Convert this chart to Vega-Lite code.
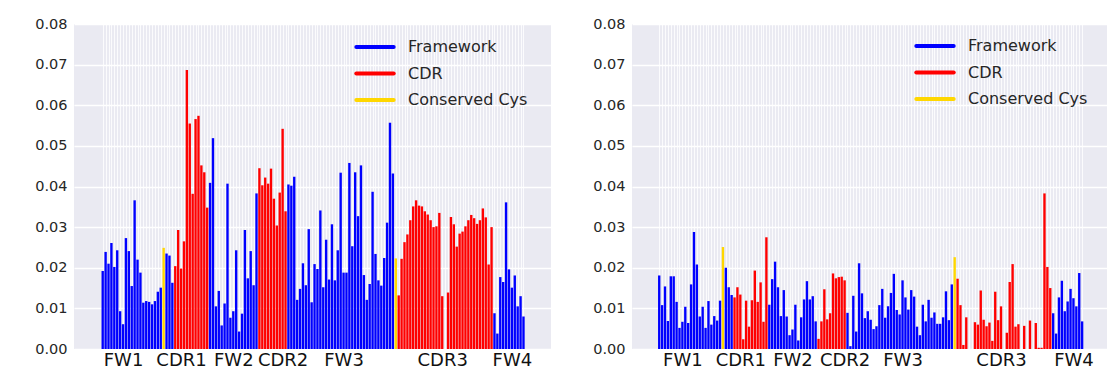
{
"$schema": "https://vega.github.io/schema/vega-lite/v6.json",
"background": "white",
"padding": {"left": 34, "top": 16, "right": 0, "bottom": 0},
"spacing": 41,
"datasets": {
"L": [
{"p":1,"v":0.0192,"r":"Framework"},{"p":2,"v":0.0239,"r":"Framework"},{"p":3,"v":0.0210,"r":"Framework"},{"p":4,"v":0.0261,"r":"Framework"},{"p":5,"v":0.0202,"r":"Framework"},{"p":6,"v":0.0243,"r":"Framework"},{"p":7,"v":0.0093,"r":"Framework"},{"p":8,"v":0.0061,"r":"Framework"},{"p":9,"v":0.0273,"r":"Framework"},{"p":10,"v":0.0241,"r":"Framework"},
{"p":11,"v":0.0155,"r":"Framework"},{"p":12,"v":0.0366,"r":"Framework"},{"p":13,"v":0.0220,"r":"Framework"},{"p":14,"v":0.0188,"r":"Framework"},{"p":15,"v":0.0114,"r":"Framework"},{"p":16,"v":0.0118,"r":"Framework"},{"p":17,"v":0.0116,"r":"Framework"},{"p":18,"v":0.0110,"r":"Framework"},{"p":19,"v":0.0118,"r":"Framework"},{"p":20,"v":0.0141,"r":"Framework"},
{"p":21,"v":0.0151,"r":"Framework"},{"p":22,"v":0.0249,"r":"Conserved Cys"},{"p":23,"v":0.0235,"r":"Framework"},{"p":24,"v":0.0230,"r":"Framework"},{"p":25,"v":0.0163,"r":"Framework"},{"p":26,"v":0.0204,"r":"CDR"},{"p":27,"v":0.0293,"r":"CDR"},{"p":28,"v":0.0198,"r":"CDR"},{"p":29,"v":0.0265,"r":"CDR"},{"p":30,"v":0.0687,"r":"CDR"},
{"p":31,"v":0.0555,"r":"CDR"},{"p":32,"v":0.0382,"r":"CDR"},{"p":33,"v":0.0566,"r":"CDR"},{"p":34,"v":0.0574,"r":"CDR"},{"p":35,"v":0.0452,"r":"CDR"},{"p":36,"v":0.0435,"r":"CDR"},{"p":37,"v":0.0348,"r":"CDR"},{"p":38,"v":0.0409,"r":"Framework"},{"p":39,"v":0.0519,"r":"Framework"},{"p":40,"v":0.0105,"r":"Framework"},
{"p":41,"v":0.0143,"r":"Framework"},{"p":42,"v":0.0058,"r":"Framework"},{"p":43,"v":0.0112,"r":"Framework"},{"p":44,"v":0.0407,"r":"Framework"},{"p":45,"v":0.0077,"r":"Framework"},{"p":46,"v":0.0093,"r":"Framework"},{"p":47,"v":0.0243,"r":"Framework"},{"p":48,"v":0.0043,"r":"Framework"},{"p":49,"v":0.0087,"r":"Framework"},{"p":50,"v":0.0293,"r":"Framework"},
{"p":51,"v":0.0174,"r":"Framework"},{"p":52,"v":0.0241,"r":"Framework"},{"p":53,"v":0.0157,"r":"Framework"},{"p":54,"v":0.0383,"r":"Framework"},{"p":55,"v":0.0445,"r":"CDR"},{"p":56,"v":0.0403,"r":"CDR"},{"p":57,"v":0.0422,"r":"CDR"},{"p":58,"v":0.0407,"r":"CDR"},{"p":59,"v":0.0444,"r":"CDR"},{"p":60,"v":0.0370,"r":"CDR"},
{"p":61,"v":0.0304,"r":"CDR"},{"p":62,"v":0.0385,"r":"CDR"},{"p":63,"v":0.0542,"r":"CDR"},{"p":64,"v":0.0339,"r":"CDR"},{"p":65,"v":0.0405,"r":"Framework"},{"p":66,"v":0.0402,"r":"Framework"},{"p":67,"v":0.0424,"r":"Framework"},{"p":68,"v":0.0121,"r":"Framework"},{"p":69,"v":0.0148,"r":"Framework"},{"p":70,"v":0.0211,"r":"Framework"},
{"p":71,"v":0.0157,"r":"Framework"},{"p":72,"v":0.0295,"r":"Framework"},{"p":73,"v":0.0115,"r":"Framework"},{"p":74,"v":0.0209,"r":"Framework"},{"p":75,"v":0.0197,"r":"Framework"},{"p":76,"v":0.0341,"r":"Framework"},{"p":77,"v":0.0152,"r":"Framework"},{"p":78,"v":0.0269,"r":"Framework"},{"p":79,"v":0.0171,"r":"Framework"},{"p":80,"v":0.0307,"r":"Framework"},
{"p":81,"v":0.0169,"r":"Framework"},{"p":82,"v":0.0243,"r":"Framework"},{"p":83,"v":0.0434,"r":"Framework"},{"p":84,"v":0.0188,"r":"Framework"},{"p":85,"v":0.0188,"r":"Framework"},{"p":86,"v":0.0458,"r":"Framework"},{"p":87,"v":0.0253,"r":"Framework"},{"p":88,"v":0.0435,"r":"Framework"},{"p":89,"v":0.0327,"r":"Framework"},{"p":90,"v":0.0452,"r":"Framework"},
{"p":91,"v":0.0182,"r":"Framework"},{"p":92,"v":0.0121,"r":"Framework"},{"p":93,"v":0.0160,"r":"Framework"},{"p":94,"v":0.0387,"r":"Framework"},{"p":95,"v":0.0234,"r":"Framework"},{"p":96,"v":0.0169,"r":"Framework"},{"p":97,"v":0.0156,"r":"Framework"},{"p":98,"v":0.0224,"r":"Framework"},{"p":99,"v":0.0311,"r":"Framework"},{"p":100,"v":0.0557,"r":"Framework"},
{"p":101,"v":0.0432,"r":"Framework"},{"p":102,"v":0.0223,"r":"Conserved Cys"},{"p":103,"v":0.0132,"r":"CDR"},{"p":104,"v":0.0222,"r":"CDR"},{"p":105,"v":0.0263,"r":"CDR"},{"p":106,"v":0.0282,"r":"CDR"},{"p":107,"v":0.0317,"r":"CDR"},{"p":108,"v":0.0351,"r":"CDR"},{"p":109,"v":0.0366,"r":"CDR"},{"p":110,"v":0.0353,"r":"CDR"},
{"p":111,"v":0.0351,"r":"CDR"},{"p":112,"v":0.0339,"r":"CDR"},{"p":113,"v":0.0331,"r":"CDR"},{"p":114,"v":0.0317,"r":"CDR"},{"p":115,"v":0.0300,"r":"CDR"},{"p":116,"v":0.0302,"r":"CDR"},{"p":117,"v":0.0335,"r":"CDR"},{"p":118,"v":0.0130,"r":"CDR"},{"p":119,"v":0,"r":"CDR"},{"p":120,"v":0.0139,"r":"CDR"},
{"p":121,"v":0.0325,"r":"CDR"},{"p":122,"v":0.0307,"r":"CDR"},{"p":123,"v":0.0252,"r":"CDR"},{"p":124,"v":0.0284,"r":"CDR"},{"p":125,"v":0.0289,"r":"CDR"},{"p":126,"v":0.0302,"r":"CDR"},{"p":127,"v":0.0317,"r":"CDR"},{"p":128,"v":0.0330,"r":"CDR"},{"p":129,"v":0.0322,"r":"CDR"},{"p":130,"v":0.0308,"r":"CDR"},
{"p":131,"v":0.0317,"r":"CDR"},{"p":132,"v":0.0346,"r":"CDR"},{"p":133,"v":0.0324,"r":"CDR"},{"p":134,"v":0.0208,"r":"CDR"},{"p":135,"v":0.0300,"r":"CDR"},{"p":136,"v":0.0088,"r":"Framework"},{"p":137,"v":0.0038,"r":"Framework"},{"p":138,"v":0.0177,"r":"Framework"},{"p":139,"v":0.0165,"r":"Framework"},{"p":140,"v":0.0361,"r":"Framework"},
{"p":141,"v":0.0196,"r":"Framework"},{"p":142,"v":0.0151,"r":"Framework"},{"p":143,"v":0.0181,"r":"Framework"},{"p":144,"v":0.0105,"r":"Framework"},{"p":145,"v":0.0130,"r":"Framework"},{"p":146,"v":0.0080,"r":"Framework"}
],
"R": [
{"p":1,"v":0.0181,"r":"Framework"},{"p":2,"v":0.0108,"r":"Framework"},{"p":3,"v":0.0154,"r":"Framework"},{"p":4,"v":0.0069,"r":"Framework"},{"p":5,"v":0.0179,"r":"Framework"},{"p":6,"v":0.0179,"r":"Framework"},{"p":7,"v":0.0116,"r":"Framework"},{"p":8,"v":0.0052,"r":"Framework"},{"p":9,"v":0.0067,"r":"Framework"},{"p":10,"v":0.0104,"r":"Framework"},
{"p":11,"v":0.0064,"r":"Framework"},{"p":12,"v":0.0159,"r":"Framework"},{"p":13,"v":0.0288,"r":"Framework"},{"p":14,"v":0.0208,"r":"Framework"},{"p":15,"v":0.0080,"r":"Framework"},{"p":16,"v":0.0104,"r":"Framework"},{"p":17,"v":0.0052,"r":"Framework"},{"p":18,"v":0.0118,"r":"Framework"},{"p":19,"v":0.0060,"r":"Framework"},{"p":20,"v":0.0081,"r":"Framework"},
{"p":21,"v":0.0070,"r":"Framework"},{"p":22,"v":0.0119,"r":"Framework"},{"p":23,"v":0.0251,"r":"Conserved Cys"},{"p":24,"v":0.0200,"r":"Framework"},{"p":25,"v":0.0152,"r":"Framework"},{"p":26,"v":0.0133,"r":"Framework"},{"p":27,"v":0.0127,"r":"CDR"},{"p":28,"v":0.0152,"r":"CDR"},{"p":29,"v":0.0134,"r":"CDR"},{"p":30,"v":0.0024,"r":"CDR"},
{"p":31,"v":0.0119,"r":"CDR"},{"p":32,"v":0.0055,"r":"CDR"},{"p":33,"v":0.0120,"r":"CDR"},{"p":34,"v":0.0193,"r":"CDR"},{"p":35,"v":0.0116,"r":"CDR"},{"p":36,"v":0.0164,"r":"CDR"},{"p":37,"v":0.0067,"r":"CDR"},{"p":38,"v":0.0275,"r":"CDR"},{"p":39,"v":0.0109,"r":"Framework"},{"p":40,"v":0.0172,"r":"Framework"},
{"p":41,"v":0.0215,"r":"Framework"},{"p":42,"v":0.0152,"r":"Framework"},{"p":43,"v":0.0081,"r":"Framework"},{"p":44,"v":0.0145,"r":"Framework"},{"p":45,"v":0.0080,"r":"Framework"},{"p":46,"v":0.0034,"r":"Framework"},{"p":47,"v":0.0048,"r":"Framework"},{"p":48,"v":0.0109,"r":"Framework"},{"p":49,"v":0.0021,"r":"Framework"},{"p":50,"v":0.0078,"r":"Framework"},
{"p":51,"v":0.0122,"r":"Framework"},{"p":52,"v":0.0167,"r":"Framework"},{"p":53,"v":0.0122,"r":"Framework"},{"p":54,"v":0.0130,"r":"Framework"},{"p":55,"v":0.0068,"r":"Framework"},{"p":56,"v":0.0025,"r":"CDR"},{"p":57,"v":0.0068,"r":"CDR"},{"p":58,"v":0.0147,"r":"CDR"},{"p":59,"v":0.0073,"r":"CDR"},{"p":60,"v":0.0088,"r":"CDR"},
{"p":61,"v":0.0186,"r":"CDR"},{"p":62,"v":0.0174,"r":"CDR"},{"p":63,"v":0.0177,"r":"CDR"},{"p":64,"v":0.0178,"r":"CDR"},{"p":65,"v":0.0169,"r":"CDR"},{"p":66,"v":0.0089,"r":"Framework"},{"p":67,"v":0.0007,"r":"Framework"},{"p":68,"v":0.0131,"r":"Framework"},{"p":69,"v":0.0043,"r":"Framework"},{"p":70,"v":0.0211,"r":"Framework"},
{"p":71,"v":0.0137,"r":"Framework"},{"p":72,"v":0.0076,"r":"Framework"},{"p":73,"v":0.0093,"r":"Framework"},{"p":74,"v":0.0072,"r":"Framework"},{"p":75,"v":0.0049,"r":"Framework"},{"p":76,"v":0.0056,"r":"Framework"},{"p":77,"v":0.0108,"r":"Framework"},{"p":78,"v":0.0148,"r":"Framework"},{"p":79,"v":0.0077,"r":"Framework"},{"p":80,"v":0.0105,"r":"Framework"},
{"p":81,"v":0.0138,"r":"Framework"},{"p":82,"v":0.0185,"r":"Framework"},{"p":83,"v":0.0096,"r":"Framework"},{"p":84,"v":0.0085,"r":"Framework"},{"p":85,"v":0.0169,"r":"Framework"},{"p":86,"v":0.0127,"r":"Framework"},{"p":87,"v":0.0097,"r":"Framework"},{"p":88,"v":0.0145,"r":"Framework"},{"p":89,"v":0.0129,"r":"Framework"},{"p":90,"v":0.0055,"r":"Framework"},
{"p":91,"v":0.0034,"r":"Framework"},{"p":92,"v":0.0109,"r":"Framework"},{"p":93,"v":0.0068,"r":"Framework"},{"p":94,"v":0.0121,"r":"Framework"},{"p":95,"v":0.0077,"r":"Framework"},{"p":96,"v":0.0090,"r":"Framework"},{"p":97,"v":0.0062,"r":"Framework"},{"p":98,"v":0.0062,"r":"Framework"},{"p":99,"v":0.0078,"r":"Framework"},{"p":100,"v":0.0142,"r":"Framework"},
{"p":101,"v":0.0071,"r":"Framework"},{"p":102,"v":0.0159,"r":"Framework"},{"p":103,"v":0.0226,"r":"Conserved Cys"},{"p":104,"v":0.0173,"r":"CDR"},{"p":105,"v":0.0108,"r":"CDR"},{"p":106,"v":0.0010,"r":"CDR"},{"p":107,"v":0.0078,"r":"CDR"},{"p":108,"v":0,"r":"CDR"},{"p":109,"v":0,"r":"CDR"},{"p":110,"v":0.0066,"r":"CDR"},
{"p":111,"v":0.0060,"r":"CDR"},{"p":112,"v":0.0144,"r":"CDR"},{"p":113,"v":0.0072,"r":"CDR"},{"p":114,"v":0.0056,"r":"CDR"},{"p":115,"v":0.0065,"r":"CDR"},{"p":116,"v":0.0020,"r":"CDR"},{"p":117,"v":0.0141,"r":"CDR"},{"p":118,"v":0.0071,"r":"CDR"},{"p":119,"v":0.0105,"r":"CDR"},{"p":120,"v":0,"r":"CDR"},
{"p":121,"v":0.0040,"r":"CDR"},{"p":122,"v":0.0165,"r":"CDR"},{"p":123,"v":0.0209,"r":"CDR"},{"p":124,"v":0.0055,"r":"CDR"},{"p":125,"v":0.0061,"r":"CDR"},{"p":126,"v":0,"r":"CDR"},{"p":127,"v":0.0057,"r":"CDR"},{"p":128,"v":0,"r":"CDR"},{"p":129,"v":0.0070,"r":"CDR"},{"p":130,"v":0,"r":"CDR"},
{"p":131,"v":0.0064,"r":"CDR"},{"p":132,"v":0.0003,"r":"CDR"},{"p":133,"v":0.0003,"r":"CDR"},{"p":134,"v":0.0383,"r":"CDR"},{"p":135,"v":0.0202,"r":"CDR"},{"p":136,"v":0.0150,"r":"CDR"},{"p":137,"v":0.0088,"r":"Framework"},{"p":138,"v":0.0038,"r":"Framework"},{"p":139,"v":0.0127,"r":"Framework"},{"p":140,"v":0.0168,"r":"Framework"},
{"p":141,"v":0.0093,"r":"Framework"},{"p":142,"v":0.0117,"r":"Framework"},{"p":143,"v":0.0148,"r":"Framework"},{"p":144,"v":0.0125,"r":"Framework"},{"p":145,"v":0.0105,"r":"Framework"},{"p":146,"v":0.0187,"r":"Framework"},{"p":147,"v":0.0068,"r":"Framework"}
]
},
"hconcat": [
{
"width": 477, "height": 325,
"data": {"name": "L"},
"mark": {"type": "bar", "width": 2.37, "orient": "vertical"},
"encoding": {
"x": {"field": "p", "type": "quantitative", "title": null,
"scale": {"domain": [-7.17, 153.76], "nice": false, "zero": false},
"axis": {"grid": true, "labelAngle": 0, "labelOverlap": false, "labelBound": false, "labelFlush": false,
"values": [1,2,3,4,5,6,7,8,9,10,11,12,13,14,15,16,17,18,19,20,21,22,23,24,25,26,27,28,29,30,31,32,33,34,35,36,37,38,39,40,41,42,43,44,45,46,47,48,49,50,51,52,53,54,55,56,57,58,59,60,61,62,63,64,65,66,67,68,69,70,71,72,73,74,75,76,77,78,79,80,81,82,83,84,85,86,87,88,89,90,91,92,93,94,95,96,97,98,99,100,101,102,103,104,105,106,107,108,109,110,111,112,113,114,115,116,117,118,119,120,121,122,123,124,125,126,127,128,129,130,131,132,133,134,135,136,137,138,139,140,141,142,143,144,145,146],
"labelExpr": "datum.value == 8 ? 'FW1' : datum.value == 28 ? 'CDR1' : datum.value == 46 ? 'FW2' : datum.value == 63 ? 'CDR2' : datum.value == 84 ? 'FW3' : datum.value == 118 ? 'CDR3' : datum.value == 142 ? 'FW4' : ''"}},
"y": {"field": "v", "type": "quantitative", "title": null, "stack": null,
"scale": {"domain": [0, 0.08], "nice": false},
"axis": {"grid": true, "values": [0, 0.01, 0.02, 0.03, 0.04, 0.05, 0.06, 0.07, 0.08], "format": ".2f"}},
"color": {"field": "r", "type": "nominal",
"scale": {"domain": ["Framework", "CDR", "Conserved Cys"], "range": ["#0000FF", "#FF0000", "#FFD700"]},
"legend": {"orient": "none", "legendX": 288, "legendY": 10,
"encode": {"symbols": {"update": {"stroke": {"scale": "color", "field": "value"}, "strokeWidth": {"value": 4}, "strokeCap": {"value": "round"}, "fill": {"value": "transparent"}}}}}}
}
},
{
"width": 475, "height": 325,
"data": {"name": "R"},
"mark": {"type": "bar", "width": 2.36, "orient": "vertical"},
"encoding": {
"x": {"field": "p", "type": "quantitative", "title": null,
"scale": {"domain": [-6.67, 153.86], "nice": false, "zero": false},
"axis": {"grid": true, "labelAngle": 0, "labelOverlap": false, "labelBound": false, "labelFlush": false,
"values": [1,2,3,4,5,6,7,8,9,10,11,12,13,14,15,16,17,18,19,20,21,22,23,24,25,26,27,28,29,30,31,32,33,34,35,36,37,38,39,40,41,42,43,44,45,46,47,48,49,50,51,52,53,54,55,56,57,58,59,60,61,62,63,64,65,66,67,68,69,70,71,72,73,74,75,76,77,78,79,80,81,82,83,84,85,86,87,88,89,90,91,92,93,94,95,96,97,98,99,100,101,102,103,104,105,106,107,108,109,110,111,112,113,114,115,116,117,118,119,120,121,122,123,124,125,126,127,128,129,130,131,132,133,134,135,136,137,138,139,140,141,142,143,144,145,146,147],
"labelExpr": "datum.value == 9 ? 'FW1' : datum.value == 29 ? 'CDR1' : datum.value == 47 ? 'FW2' : datum.value == 65 ? 'CDR2' : datum.value == 85 ? 'FW3' : datum.value == 119 ? 'CDR3' : datum.value == 144 ? 'FW4' : ''"}},
"y": {"field": "v", "type": "quantitative", "title": null, "stack": null,
"scale": {"domain": [0, 0.08], "nice": false},
"axis": {"grid": true, "values": [0, 0.01, 0.02, 0.03, 0.04, 0.05, 0.06, 0.07, 0.08], "format": ".2f"}},
"color": {"field": "r", "type": "nominal",
"scale": {"domain": ["Framework", "CDR", "Conserved Cys"], "range": ["#0000FF", "#FF0000", "#FFD700"]},
"legend": {"orient": "none", "legendX": 290, "legendY": 9,
"encode": {"symbols": {"update": {"stroke": {"scale": "color", "field": "value"}, "strokeWidth": {"value": 4}, "strokeCap": {"value": "round"}, "fill": {"value": "transparent"}}}}}}
}
}
],
"resolve": {"legend": {"color": "independent"}},
"config": {
"view": {"fill": "#EAEAF2", "stroke": null},
"axis": {"domain": false, "ticks": false, "gridColor": "#FFFFFF", "labelFont": "DejaVu Sans", "labelColor": "#262626"},
"axisX": {"gridWidth": 0.8, "labelFontSize": 18, "labelPadding": 2, "labelColor": "#111111"},
"axisY": {"gridWidth": 1.3, "labelFontSize": 14.5, "labelPadding": 7},
"legend": {"title": null, "symbolType": "M-1.7,0H1.7", "symbolSize": 484, "symbolStrokeWidth": 4, "labelFontSize": 16, "labelFont": "DejaVu Sans", "labelColor": "#262626", "labelOffset": 20, "rowPadding": 5.5, "padding": 0}
}
}
